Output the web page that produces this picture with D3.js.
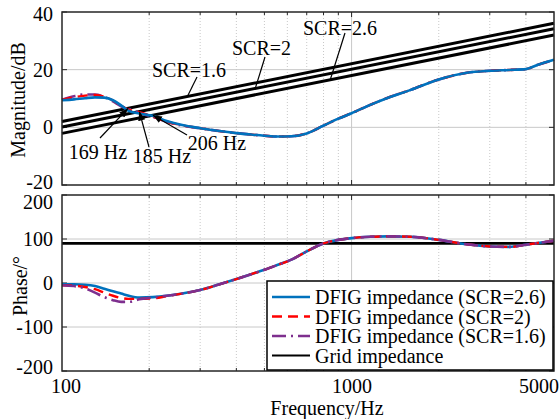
<!DOCTYPE html>
<html lang="en">
<head>
<meta charset="UTF-8">
<title>DFIG impedance vs grid impedance</title>
<style>
  body { margin: 0; background: #fff; }
  svg text { font-family: "Liberation Serif", "Times New Roman", serif; font-size: 20px; fill: #000; }
  .grid-major { stroke: #c8c8c8; stroke-width: 1; }
  .grid-minor { stroke: #c8c8c8; stroke-width: 1; stroke-dasharray: 1,2; }
  .frame { fill: none; stroke: #262626; stroke-width: 1.5; }
</style>
<script src="https://d3js.org/d3.v7.min.js"></script>
</head>
<body>
<svg id="chart" width="559" height="419"></svg>
<script>
// frequency points (Hz)
const freqs = [100, 110, 120, 130, 140, 150, 160, 170, 185, 206, 230, 260, 300, 350, 400, 450, 500, 560, 620, 700, 800, 900, 1000, 1160, 1330, 1600, 2000, 2500, 3000, 3500, 4000, 4400, 5000];

// magnitude (dB)
const magSCR26 = [9.4, 9.7, 10.1, 10.4, 10.3, 9.4, 7.6, 5.7, 4.8, 4.0, 2.2, 0.8, -0.3, -1.3, -2.0, -2.5, -2.9, -3.2, -3.1, -2.1, 0.6, 3.0, 4.9, 7.8, 10.2, 13.0, 16.6, 18.9, 19.6, 19.9, 20.2, 21.7, 23.4];
const magSCR2 = [9.5, 10.4, 11.0, 11.2, 10.6, 9.3, 7.4, 6.1, 5.3, 3.7, 2.0, 0.7, -0.3, -1.3, -2.0, -2.5, -2.9, -3.2, -3.1, -2.1, 0.6, 3.0, 4.9, 7.8, 10.2, 13.0, 16.6, 18.9, 19.6, 19.9, 20.2, 21.7, 23.4];
const magSCR16 = [9.6, 10.8, 11.4, 11.4, 10.6, 9.0, 7.3, 6.4, 5.0, 3.6, 1.9, 0.6, -0.3, -1.3, -2.0, -2.5, -2.9, -3.2, -3.1, -2.1, 0.6, 3.0, 4.9, 7.8, 10.2, 13.0, 16.6, 18.9, 19.6, 19.9, 20.2, 21.7, 23.4];

// phase (deg)
const phSCR26 = [-3, -3, -4, -7, -13, -19, -24, -29, -33, -32, -29, -24, -16, -3, 9, 20, 30, 42, 53, 72, 90, 98, 102, 105, 106, 105, 98, 88, 83, 82, 87, 91, 96];
const phSCR2 = [-5, -6, -9, -14, -22, -29, -34, -36, -36, -35, -30, -24, -16, -3, 9, 20, 30, 42, 53, 72, 90, 98, 102, 105, 106, 105, 98, 88, 83, 82, 87, 91, 96];
const phSCR16 = [-5, -7, -12, -22, -32, -39, -43, -43, -37, -33, -29, -24, -16, -3, 9, 20, 30, 42, 53, 72, 90, 98, 102, 105, 106, 105, 98, 88, 83, 82, 87, 91, 96];

// grid impedance magnitude at 100 Hz and 5000 Hz (dB)
const gridFreqs = [100, 5000];
const gridMag16 = [2.0, 36.1];
const gridMag2 = [0.1, 34.2];
const gridMag26 = [-2.1, 32.0];
const gridPhase = [90, 90];

const crossFreqs = [169, 185, 206];
const crossLabels = ["169 Hz", "185 Hz", "206 Hz"];

const xTicks = [100, 1000, 5000];
const xMinor = [200, 300, 400, 500, 600, 700, 800, 900, 2000, 3000, 4000];
const magTicks = [-20, 0, 20, 40];
const phTicks = [-200, -100, 0, 100, 200];

const legendLabels = ["DFIG impedance (SCR=2.6)", "DFIG impedance (SCR=2)", "DFIG impedance (SCR=1.6)", "Grid impedance"];

const blue = "#0072BD", red = "#FF0000", purple = "#7E2F8E";

const svg = d3.select("#chart");
const left = 62, right = 554;
const x = d3.scaleLog().domain([100, 5000]).range([left, right]);
const yMag = d3.scaleLinear().domain([-20, 40]).range([185, 12]);
const yPh = d3.scaleLinear().domain([-200, 200]).range([371, 195]);

// grid-line value along straight line in log f
function gridAt(vals, f) {
  const t = Math.log(f / gridFreqs[0]) / Math.log(gridFreqs[1] / gridFreqs[0]);
  return vals[0] + (vals[1] - vals[0]) * t;
}

function panel(y, ticks, nudge) {
  const g = svg.append("g");
  const [y0, y1] = y.range();
  // grid
  g.selectAll(".gx").data(xMinor).enter().append("line")
    .attr("class", "grid-minor")
    .attr("x1", d => x(d)).attr("x2", d => x(d)).attr("y1", y1).attr("y2", y0);
  g.append("line").attr("class", "grid-major")
    .attr("x1", x(1000)).attr("x2", x(1000)).attr("y1", y1).attr("y2", y0);
  g.selectAll(".gy").data(ticks.slice(1, -1)).enter().append("line")
    .attr("class", "grid-major")
    .attr("x1", left).attr("x2", right).attr("y1", d => y(d)).attr("y2", d => y(d));
  // ticks on all sides
  const allX = xMinor.concat([1000]);
  allX.forEach(f => {
    const len = f === 1000 ? 5 : 3;
    g.append("line").attr("x1", x(f)).attr("x2", x(f)).attr("y1", y0).attr("y2", y0 - len).attr("stroke", "#262626");
    g.append("line").attr("x1", x(f)).attr("x2", x(f)).attr("y1", y1).attr("y2", y1 + len).attr("stroke", "#262626");
  });
  ticks.forEach(v => {
    g.append("line").attr("x1", left).attr("x2", left + 5).attr("y1", y(v)).attr("y2", y(v)).attr("stroke", "#262626");
    g.append("line").attr("x1", right).attr("x2", right - 5).attr("y1", y(v)).attr("y2", y(v)).attr("stroke", "#262626");
  });
  g.selectAll(".yl").data(ticks).enter().append("text")
    .attr("x", left - 9)
    .attr("y", d => y(d) + (nudge[d] || 0))
    .attr("text-anchor", "end")
    .attr("dominant-baseline", "central")
    .text(d => d);
  return g;
}

const gMag = panel(yMag, magTicks, {"40": 2, "-20": -3});
const gPh = panel(yPh, phTicks, {"200": 7, "-200": -4});

const lineMag = d3.line().x((d, i) => x(freqs[i])).y(d => yMag(d)).curve(d3.curveMonotoneX);
const linePh = d3.line().x((d, i) => x(freqs[i])).y(d => yPh(d)).curve(d3.curveMonotoneX);

const styles = {
  s26: { color: blue, dash: null, w: 2.6 },
  s2: { color: red, dash: "10,6", w: 2.4 },
  s16: { color: purple, dash: "14,5,2,5", w: 2.6 }
};

function drawCurve(g, gen, data, s) {
  g.append("path").attr("d", gen(data))
    .attr("fill", "none").attr("stroke", s.color).attr("stroke-width", s.w)
    .attr("stroke-dasharray", s.dash);
}

// grid impedance lines (magnitude)
const lineGrid = d3.line().x((d, i) => x(gridFreqs[i])).y(d => yMag(d));
[gridMag16, gridMag2, gridMag26].forEach(vals => {
  gMag.append("path").attr("d", lineGrid(vals)).attr("fill", "none")
    .attr("stroke", "#000").attr("stroke-width", 3);
});

drawCurve(gMag, lineMag, magSCR16, styles.s16);
drawCurve(gMag, lineMag, magSCR2, styles.s2);
drawCurve(gMag, lineMag, magSCR26, styles.s26);

// phase
const lineGridPh = d3.line().x((d, i) => x(gridFreqs[i])).y(d => yPh(d));
gPh.append("path").attr("d", lineGridPh(gridPhase)).attr("fill", "none")
  .attr("stroke", "#000").attr("stroke-width", 2.6);
drawCurve(gPh, linePh, phSCR26, styles.s26);
drawCurve(gPh, linePh, phSCR2, styles.s2);
drawCurve(gPh, linePh, phSCR16, styles.s16);

// frames
[yMag, yPh].forEach(y => {
  svg.append("rect").attr("class", "frame")
    .attr("x", left).attr("y", y.range()[1])
    .attr("width", right - left).attr("height", y.range()[0] - y.range()[1]);
});

// SCR annotations
const scrNotes = [
  { text: "SCR=1.6", tx: 152, ty: 70, lx: 197, ly: 77, f: 271, vals: gridMag16 },
  { text: "SCR=2", tx: 232, ty: 48, lx: 265, ly: 57, f: 465, vals: gridMag2 },
  { text: "SCR=2.6", tx: 303, ty: 28, lx: 345, ly: 33, f: 844, vals: gridMag26 }
];
scrNotes.forEach(n => {
  svg.append("line").attr("x1", n.lx).attr("y1", n.ly)
    .attr("x2", x(n.f)).attr("y2", yMag(gridAt(n.vals, n.f)))
    .attr("stroke", "#000").attr("stroke-width", 1.2);
  svg.append("text").attr("x", n.tx).attr("y", n.ty)
    .attr("dominant-baseline", "central").text(n.text);
});

// crossing arrows
svg.append("defs").append("marker")
  .attr("id", "arr").attr("viewBox", "0 0 10 10").attr("refX", 10).attr("refY", 5)
  .attr("markerWidth", 9).attr("markerHeight", 9).attr("markerUnits", "userSpaceOnUse")
  .attr("orient", "auto")
  .append("path").attr("d", "M0,1 L10,5 L0,9 Z").attr("fill", "#000");

const crossVals = [gridMag16, gridMag2, gridMag26];
const crossText = [[98, 152], [162, 156], [217, 143]];
const crossTail = [[100, 138], [149, 147], [187, 135]];
crossFreqs.forEach((f, i) => {
  svg.append("line")
    .attr("x1", crossTail[i][0]).attr("y1", crossTail[i][1])
    .attr("x2", x(f)).attr("y2", yMag(gridAt(crossVals[i], f)))
    .attr("stroke", "#000").attr("stroke-width", 1.2)
    .attr("marker-end", "url(#arr)");
  svg.append("text").attr("x", crossText[i][0]).attr("y", crossText[i][1])
    .attr("text-anchor", "middle").attr("dominant-baseline", "central")
    .text(crossLabels[i]);
});

// x tick labels
const xLabelPos = { 100: 66, 1000: 352, 5000: 539 };
svg.selectAll(".xl").data(xTicks).enter().append("text")
  .attr("x", d => xLabelPos[d])
  .attr("y", 386)
  .attr("text-anchor", "middle").attr("dominant-baseline", "central")
  .text(d => d);

svg.append("text").attr("x", 327).attr("y", 408)
  .attr("text-anchor", "middle").attr("dominant-baseline", "central")
  .text("Frequency/Hz");

svg.append("text").attr("transform", "translate(18,100) rotate(-90)")
  .attr("text-anchor", "middle").attr("dominant-baseline", "central")
  .text("Magnitude/dB");
svg.append("text").attr("transform", "translate(20,286) rotate(-90)")
  .attr("text-anchor", "middle").attr("dominant-baseline", "central")
  .text("Phase/°");

// legend
const leg = svg.append("g");
leg.append("rect").attr("x", 267).attr("y", 281).attr("width", 286).attr("height", 89)
  .attr("fill", "#fff").attr("stroke", "#000").attr("stroke-width", 1.5);
const legStyles = [styles.s26, styles.s2, styles.s16, { color: "#000", dash: null, w: 2 }];
legendLabels.forEach((lab, i) => {
  const yy = 297 + i * 19.5;
  leg.append("line").attr("x1", 272).attr("x2", 310).attr("y1", yy).attr("y2", yy)
    .attr("stroke", legStyles[i].color).attr("stroke-width", legStyles[i].w)
    .attr("stroke-dasharray", legStyles[i].dash);
  leg.append("text").attr("x", 315).attr("y", yy)
    .attr("dominant-baseline", "central").text(lab);
});
</script>
</body>
</html>
